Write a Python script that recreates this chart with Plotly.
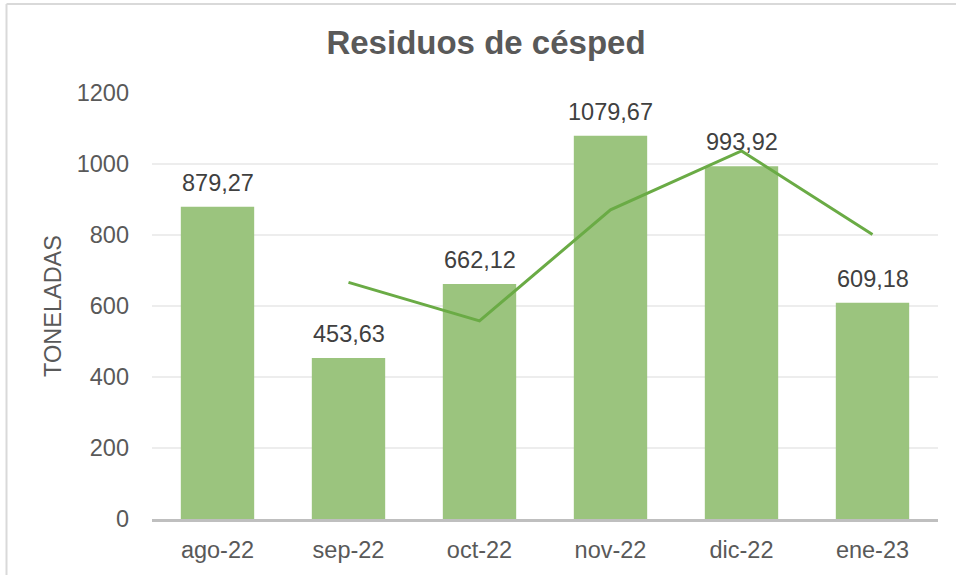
import plotly.graph_objects as go

categories = ["ago-22", "sep-22", "oct-22", "nov-22", "dic-22", "ene-23"]
toneladas = [879.27, 453.63, 662.12, 1079.67, 993.92, 609.18]
trend_categories = ["sep-22", "oct-22", "nov-22", "dic-22", "ene-23"]
trend_values = [666.45, 557.88, 870.90, 1036.80, 801.55]
y_ticks = [0, 200, 400, 600, 800, 1000, 1200]

FONT = "Liberation Sans, Arial, sans-serif"
FS = 23.5

fig = go.Figure()
fig.add_trace(go.Bar(
    x=categories, y=toneladas,
    marker=dict(color="#9BC47E", line=dict(width=0)),
    hoverinfo="skip",
))
fig.add_trace(go.Scatter(
    x=trend_categories, y=trend_values, mode="lines",
    line=dict(color="#6AAB45", width=3),
    hoverinfo="skip",
))

for c, v in zip(categories, toneladas):
    fig.add_annotation(
        x=c, y=v, text=f"{v:.2f}".replace(".", ","),
        showarrow=False, yanchor="bottom", yshift=9,
        font=dict(family=FONT, size=FS, color="#404040"),
    )

# outer frame lines (left and top)
fig.add_shape(type="line", xref="paper", yref="paper",
              x0=-0.1851, x1=-0.1851, y0=-0.2, y1=1.2089,
              line=dict(color="#D9D9D9", width=2))
fig.add_shape(type="line", xref="paper", yref="paper",
              x0=-0.1851, x1=1.05, y0=1.2089, y1=1.2089,
              line=dict(color="#D9D9D9", width=2))

fig.update_layout(
    width=956, height=575,
    margin=dict(l=152, r=18, t=93, b=56),
    paper_bgcolor="white", plot_bgcolor="white",
    showlegend=False,
    bargap=0.44,
    title=dict(text="<b>Residuos de césped</b>", x=486 / 956, xanchor="center",
               y=1 - 42 / 575, yanchor="middle",
               font=dict(family=FONT, size=33, color="#595959")),
    font=dict(family=FONT, color="#595959"),
)
fig.update_xaxes(
    showgrid=False, showline=True, linecolor="#BFBFBF", linewidth=2.5,
    tickfont=dict(family=FONT, size=FS, color="#595959"),
    ticks="", ticklabelstandoff=8,
)
fig.update_yaxes(
    range=[0, 1200], tickvals=y_ticks, ticktext=[str(t) for t in y_ticks],
    showgrid=True, gridcolor="#EDEDED", gridwidth=1.5,
    zeroline=False, showline=False, ticks="",
    tickfont=dict(family=FONT, size=FS, color="#595959"),
    ticklabelstandoff=22,
    title=dict(text="TONELADAS", standoff=8,
               font=dict(family=FONT, size=FS, color="#595959")),
)

fig.write_html("out.html", config={"displayModeBar": False},
               post_script="document.body.style.margin='0';")
